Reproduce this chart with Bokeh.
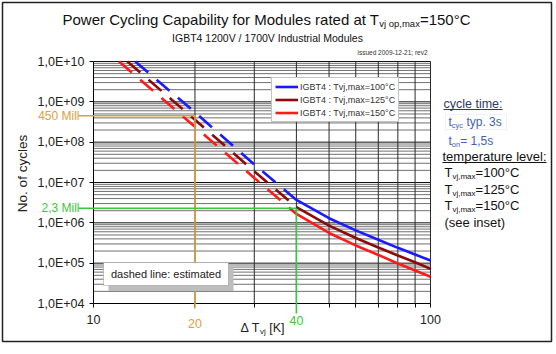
import math
from bokeh.plotting import figure
from bokeh.models import (Range1d, FixedTicker, Label, Legend, LegendItem,
                          BoxAnnotation, Arrow)
from bokeh.embed import file_html
from bokeh.resources import INLINE

# ---------------- data ----------------
dT_dash_blue = [13.3, 20, 30, 40]
n_dash_blue = [1.0e10, 5.5e8, 2.8e7, 3.7e6]
dT_dash_dred = [12.6, 20, 30, 40]
n_dash_dred = [1.0e10, 3.6e8, 1.9e7, 2.45e6]
dT_dash_red = [11.9, 20, 30, 40]
n_dash_red = [1.0e10, 2.4e8, 1.3e7, 1.66e6]

dT_solid = [40, 50, 60, 70, 80, 90, 100]
n_blue = [3.7e6, 1.3e6, 6.5e5, 3.8e5, 2.4e5, 1.64e5, 1.16e5]
n_dred = [2.45e6, 8.5e5, 4.2e5, 2.45e5, 1.55e5, 1.05e5, 7.2e4]
n_red = [1.66e6, 5.6e5, 2.75e5, 1.6e5, 9.8e4, 6.6e4, 4.6e4]

series_labels = ["IGBT4 : Tvj,max=100°C", "IGBT4 : Tvj,max=125°C", "IGBT4 : Tvj,max=150°C"]

yticks = [10**4, 10**5, 10**6, 10**7, 10**8, 10**9, 10**10]
ytick_labels = ["1,0E+04", "1,0E+05", "1,0E+06", "1,0E+07", "1,0E+08", "1,0E+09", "1,0E+10"]
xticks = [10, 100]
xtick_labels = ["10", "100"]
xminor = [20, 30, 40, 50, 60, 70, 80, 90]

mark_dT = [20, 40]
mark_n = [4.5e8, 2.3e6]
mark_ylabels = ["450 Mill", "2,3 Mill"]
mark_xlabels = ["20", "40"]

FONT = "Liberation Sans"
BLUE, DRED, RED = "#1a1aff", "#8c0a0a", "#ff1a1a"
ORANGE, GREEN = "#DDA040", "#3CC63C"

# geometry (pixels)
W, H = 556, 354
FL, FR, FT, FB = 93, 430, 61, 303          # plot area
BL, BR, BT, BB = 2, 551, 2, 341            # outer frame


def dx(px):
    return 10 ** (1 + (px - FL) / (FR - FL))


def dy(py):
    return 10 ** (10 - (py - FT) / (FB - FT) * 6)


p = figure(width=W, height=H, x_axis_type="log", y_axis_type="log",
           x_range=Range1d(dx(BL), dx(BR)), y_range=Range1d(dy(BB), dy(BT)),
           output_backend="svg", toolbar_location=None, title=None,
           min_border_left=BL, min_border_right=W - BR,
           min_border_top=BT, min_border_bottom=H - BB)
p.background_fill_color = "white"
p.border_fill_color = "white"
p.outline_line_color = "#222222"
p.outline_line_width = 1.5
p.grid.visible = False

# axes (library axes, fixed at the plot-area edges)
minor_y = [k * 10**e for e in range(4, 10) for k in range(2, 10)]
xa, ya = p.xaxis[0], p.yaxis[0]
ya.ticker = FixedTicker(ticks=yticks, minor_ticks=minor_y)
ya.major_label_overrides = dict(zip(yticks, ytick_labels))
xa.ticker = FixedTicker(ticks=xticks, minor_ticks=xminor)
xa.major_label_overrides = dict(zip(xticks, xtick_labels))
ya.fixed_location = xticks[0]
xa.fixed_location = yticks[0]
ya.bounds = (yticks[0], yticks[-1])
xa.bounds = (xticks[0], xticks[-1])
for ax in (xa, ya):
    ax.axis_line_color = "black"
    ax.major_tick_line_color = "black"
    ax.minor_tick_line_color = "black"
    ax.major_tick_in = 0
    ax.major_tick_out = 4
    ax.major_label_text_font = FONT
    ax.major_label_text_font_size = "12.5px"
    ax.major_label_text_color = "#222222"
xa.minor_tick_in = 0
xa.minor_tick_out = 4
xa.major_label_standoff = 7
ya.minor_tick_in = 0
ya.minor_tick_out = 0
ya.major_label_standoff = 5

# grid lines, limited to the plot area
yg_major = yticks[1:]
xg = xminor + xticks[1:]
p.segment(x0=[xticks[0]] * len(minor_y), x1=[xticks[-1]] * len(minor_y), y0=minor_y, y1=minor_y,
          line_color="#707070", line_width=1)
p.segment(x0=[xticks[0]] * len(yg_major), x1=[xticks[-1]] * len(yg_major), y0=yg_major, y1=yg_major,
          line_color="#111111", line_width=1)
p.segment(x0=xg, x1=xg, y0=[yticks[0]] * len(xg), y1=[yticks[-1]] * len(xg),
          line_color="#2a2a2a", line_width=1)

# curves
LW = 2.6
DASH = "17 11"
p.line(dT_dash_blue, n_dash_blue, line_color=BLUE, line_width=LW, line_dash=DASH)
p.line(dT_dash_dred, n_dash_dred, line_color=DRED, line_width=LW, line_dash=DASH)
p.line(dT_dash_red, n_dash_red, line_color=RED, line_width=LW, line_dash=DASH)
rb = p.line(dT_solid, n_blue, line_color=BLUE, line_width=LW)
rd = p.line(dT_solid, n_dred, line_color=DRED, line_width=LW)
rr = p.line(dT_solid, n_red, line_color=RED, line_width=LW)

# --------- text helpers ----------
CW = {' ': .278, '!': .278, '(': .333, ')': .333, ',': .278, '.': .278, '-': .333,
      ':': .278, ';': .278, '=': .584, '+': .584, '°': .4, '[': .278, ']': .278,
      '/': .278, 'Δ': .668}
for c in "0123456789":
    CW[c] = .556
CW.update(dict(A=.667, B=.667, C=.722, D=.722, E=.667, F=.611, G=.778, H=.722, I=.278,
               J=.5, K=.667, L=.556, M=.833, N=.722, O=.778, P=.667, Q=.778, R=.722,
               S=.667, T=.611, U=.722, V=.667, W=.944, X=.667, Y=.667, Z=.611))
CW.update(dict(a=.556, b=.556, c=.5, d=.556, e=.556, f=.278, g=.556, h=.556, i=.222,
               j=.222, k=.5, l=.222, m=.833, n=.556, o=.556, p=.556, q=.556, r=.333,
               s=.5, t=.278, u=.556, v=.5, w=.722, x=.5, y=.5, z=.5))


def tw(s, size):
    return sum(CW.get(c, .55) for c in s) * size


def rich(parts, x_px, cy_px, align="left"):
    """parts: (text, font px, vertical offset of centre, colour); cy_px = text centre."""
    total = sum(tw(t, s) for t, s, _, _ in parts)
    cur = x_px - (total / 2 if align == "center" else 0)
    for t, s, d, c in parts:
        lead = len(t) - len(t.lstrip(" "))
        cur += tw(" " * lead, s)
        t2 = t.strip(" ")
        p.add_layout(Label(x=dx(cur), y=dy(cy_px + d), text=t2,
                           text_font=FONT, text_font_size=f"{s}px", text_color=c,
                           text_baseline="middle", text_align="left"))
        cur += tw(t2, s) + tw(" " * (len(t) - lead - len(t2)), s)
    return total


def hline(x0, x1, y, color, width=1.0):
    p.add_layout(Arrow(end=None, x_start=dx(x0), x_end=dx(x1), y_start=dy(y), y_end=dy(y),
                       line_color=color, line_width=width))


# title
rich([("Power Cycling Capability for Modules rated at T", 15, 0, "#111111"),
      ("vj op,max", 9.5, 4.5, "#111111"),
      ("=150°C", 15, 0, "#111111")], 266, 18.5, align="center")
rich([("IGBT4 1200V / 1700V Industrial Modules", 10.5, 0, "#111111")], 267, 37.5, align="center")
rich([("issued 2009-12-21; rev2", 6.5, 0, "#333333")], 392, 52, align="center")

# axis titles
p.add_layout(Label(x=dx(22), y=dy(173), text="No. of cycles", angle=math.pi / 2,
                   text_font=FONT, text_font_size="13.5px", text_color="#222222",
                   text_align="center", text_baseline="middle"))
rich([("Δ T", 12.5, 0, "#222222"), ("vj", 8, 3.5, "#222222"), (" [K]", 12.5, 0, "#222222")],
     262, 327, align="center")

# marker lines (orange 450 Mill @ 20 K, green 2,3 Mill @ 40 K)
mark_colors = [ORANGE, GREEN]
mark_bottom = [308, 313]
mark_label_y = [323, 320]
for i in range(2):
    p.add_layout(Arrow(end=None, x_start=dx(78), x_end=mark_dT[i], y_start=mark_n[i],
                       y_end=mark_n[i], line_color=mark_colors[i], line_width=1.6))
    p.add_layout(Arrow(end=None, x_start=mark_dT[i], x_end=mark_dT[i], y_start=mark_n[i],
                       y_end=dy(mark_bottom[i]), line_color=mark_colors[i], line_width=1.6))
    p.add_layout(Label(x=dx(79), y=mark_n[i], text=mark_ylabels[i], text_font=FONT,
                       text_font_size="12px", text_color=mark_colors[i],
                       text_align="right", text_baseline="middle"))
    p.add_layout(Label(x=mark_dT[i], y=dy(mark_label_y[i]), text=mark_xlabels[i], text_font=FONT,
                       text_font_size="12.5px", text_color=mark_colors[i],
                       text_align="center", text_baseline="middle"))

# "dashed line: estimated" box with shadow
p.add_layout(BoxAnnotation(left=dx(108), right=dx(233), top=dy(267), bottom=dy(290.5),
                           fill_color="#bdbdbd", fill_alpha=1, line_alpha=0))
p.add_layout(BoxAnnotation(left=dx(103), right=dx(228), top=dy(262), bottom=dy(285),
                           fill_color="white", fill_alpha=1, line_color="#555555",
                           line_width=1))
p.add_layout(Label(x=dx(165.5), y=dy(273.5), text="dashed line: estimated", text_font=FONT,
                   text_font_size="11px", text_color="#222222", text_align="center",
                   text_baseline="middle"))

# right side notes
DARK = "#2d3a66"
NBLUE = "#4262b0"
w = rich([("cycle time:", 12.5, 0, DARK)], 443, 103)
hline(443, 443 + w, 109, DARK)
p.add_layout(BoxAnnotation(left=dx(445), right=dx(506), top=dy(114), bottom=dy(129),
                           fill_alpha=0, line_color="#c4cce4", line_width=1))
rich([("t", 12, 0, NBLUE), ("cyc", 7.5, 3.5, NBLUE), (" typ. 3s", 12, 0, NBLUE)], 448, 121.5)
rich([("t", 12, 0, NBLUE), ("on", 7.5, 3.5, NBLUE), ("= 1,5s", 12, 0, NBLUE)], 448, 140.5)
w = rich([("temperature level:", 13, 0, "#111111")], 442, 156)
hline(442, 442 + w, 162, "#111111")
temps = ["=100°C", "=125°C", "=150°C"]
for i, t in enumerate(temps):
    rich([("T", 13, 0, "#111111"), ("vj,max", 8, 4, "#111111"), (t, 13, 0, "#111111")],
         444, 172 + 16.5 * i)
rich([("(see inset)", 13, 0, "#111111")], 444, 221.5)

# legend
legend = Legend(items=[LegendItem(label=series_labels[0], renderers=[rb]),
                       LegendItem(label=series_labels[1], renderers=[rd]),
                       LegendItem(label=series_labels[2], renderers=[rr])],
                location=(271 - BL, BB - 122), orientation="vertical",
                padding=3, spacing=2, margin=0, label_height=11, glyph_height=11,
                glyph_width=23, label_standoff=2,
                label_text_font=FONT, label_text_font_size="9px",
                label_text_color="#333333", border_line_color="#888888",
                background_fill_color="white", background_fill_alpha=1)
p.add_layout(legend, "center")

open("out.html", "w").write(file_html(p, INLINE))
